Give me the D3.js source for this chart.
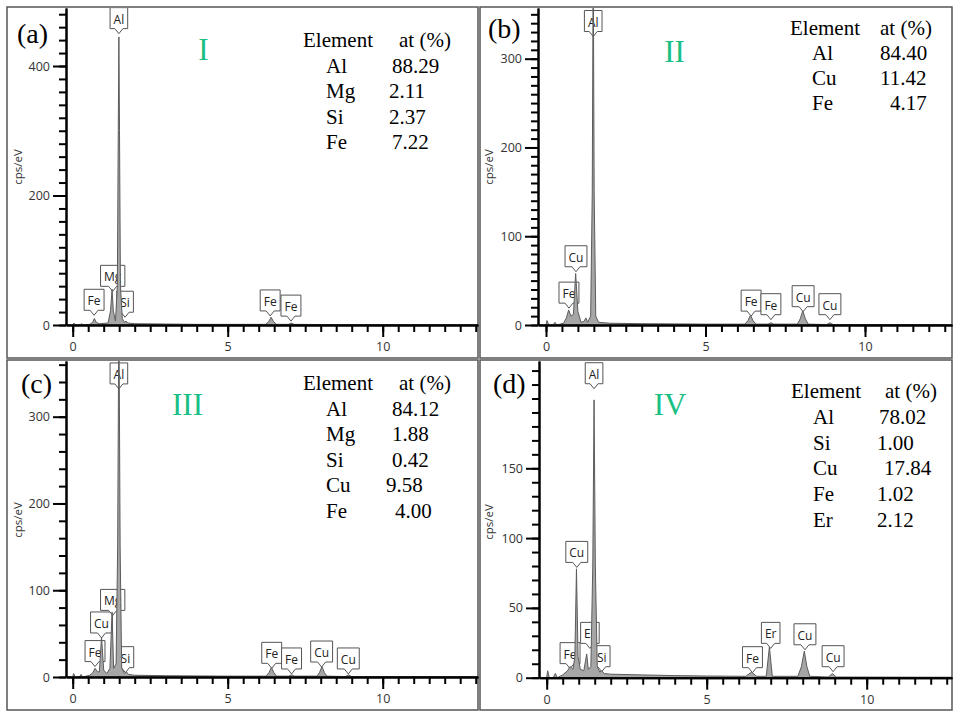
<!DOCTYPE html>
<html>
<head>
<meta charset="utf-8">
<script src="https://cdnjs.cloudflare.com/ajax/libs/d3/7.8.5/d3.min.js"></script>
<style>
  body { margin: 0; background: #fff; }
  svg { display: block; }
</style>
</head>
<body>
<svg id="fig" width="953" height="712"></svg>
<script>
// EDS spectra, [energy keV, counts cps/eV]
var specA = [[-0.25,0],[0,0],[0.04,3],[0.09,0],[0.24,0],[0.29,2],[0.34,0],[0.55,1],[0.64,4],[0.7,10],[0.76,4],[0.86,2],[1.14,3],[1.22,22],[1.27,55],[1.31,22],[1.38,6],[1.44,60],[1.47,300],[1.49,445],[1.51,300],[1.54,60],[1.6,10],[1.67,4],[1.72,6],[1.78,3],[2.0,2],[3,1.5],[4,1],[5,1],[6.22,1],[6.32,5],[6.4,12],[6.48,5],[6.58,1],[6.96,1],[7.05,3],[7.14,1],[9,0.5],[13.2,0.3]];
var specB = [[-0.3,0],[0,0],[0.03,5],[0.09,0],[0.22,0],[0.28,3],[0.34,0],[0.55,2],[0.64,8],[0.71,17],[0.78,10],[0.86,12],[0.93,58],[1.0,15],[1.1,3],[1.19,4],[1.25,8],[1.3,3],[1.4,10],[1.45,150],[1.48,420],[1.51,150],[1.56,10],[1.65,3],[2,2],[3,1.5],[5,1],[6.24,1],[6.33,5],[6.41,11],[6.49,5],[6.58,1],[6.96,1],[7.05,2.5],[7.14,1],[7.88,1],[7.97,7],[8.05,16],[8.13,7],[8.22,1],[8.8,0.5],[8.9,2.5],[9.0,0.5],[13.2,0.3]];
var specC = [[-0.25,0],[0,0],[0.03,4],[0.08,0],[0.22,0],[0.27,3],[0.32,0],[0.55,2],[0.65,5],[0.72,10],[0.8,6],[0.86,6],[0.93,46],[1.0,8],[1.1,4],[1.2,10],[1.27,75],[1.32,10],[1.4,15],[1.45,150],[1.49,430],[1.53,150],[1.58,10],[1.67,4],[1.73,6],[1.8,3],[2,2],[3,1.5],[5,1],[6.24,1],[6.33,5],[6.41,11],[6.49,5],[6.58,1],[6.96,1],[7.06,2.5],[7.15,1],[7.88,1],[7.96,5],[8.04,12],[8.12,5],[8.2,1],[8.8,0.5],[8.9,2.5],[9,0.5],[13.2,0.3]];
var specD = [[-0.3,0],[0,0],[0.03,5],[0.08,0],[0.2,0],[0.27,3],[0.33,0],[0.5,2],[0.65,5],[0.73,8],[0.82,6],[0.88,15],[0.93,78],[0.98,15],[1.05,6],[1.16,5],[1.25,17],[1.3,6],[1.38,8],[1.44,80],[1.48,199],[1.52,80],[1.58,8],[1.66,4],[1.72,5],[1.8,3],[2,2.5],[3,2],[4,1.5],[5,1.2],[6.22,1],[6.4,4],[6.56,1],[6.86,1],[6.96,22],[7.05,1],[7.85,1],[7.96,8],[8.05,19],[8.13,8],[8.22,1],[8.8,0.5],[8.93,3],[9.05,0.5],[13.2,0.3]];

// peak labels: element, energy (keV), pointer tip (cps/eV)
var labelsA = [["Al",1.49,450],["Fe",0.69,15],["Mg",1.29,52],["Si",1.69,12],["Fe",6.37,14],["Fe",7.04,6]];
var labelsB = [["Al",1.48,325],["Fe",0.72,19],["Cu",0.94,60],["Fe",6.43,10],["Fe",7.05,6],["Cu",8.06,15],["Cu",8.9,6]];
var labelsC = [["Al",1.49,332],["Fe",0.72,12],["Cu",0.93,45],["Mg",1.29,71],["Si",1.7,5],["Fe",6.42,10],["Fe",7.06,3.5],["Cu",8.03,11.5],["Cu",8.89,3.5]];
var labelsD = [["Al",1.48,207],["Cu",0.94,79],["Fe",0.73,6.5],["Er",1.35,21],["Si",1.72,4.3],["Fe",6.43,3.6],["Er",7.0,21],["Cu",8.07,20],["Cu",8.95,4.3]];

// composition tables
var elemA = ["Al","Mg","Si","Fe"],       atA = ["88.29","2.11","2.37","7.22"];
var elemB = ["Al","Cu","Fe"],            atB = ["84.40","11.42","4.17"];
var elemC = ["Al","Mg","Si","Cu","Fe"],  atC = ["84.12","1.88","0.42","9.58","4.00"];
var elemD = ["Al","Si","Cu","Fe","Er"],  atD = ["78.02","1.00","17.84","1.02","2.12"];

var yTicksA = [0,200,400], yTicksB = [0,100,200,300], yTicksC = [0,100,200,300], yTicksD = [0,50,100,150];
var xTicks = [0,5,10];

var svg = d3.select("#fig");
var green = "#19bf85";

var panels = [
  {id:"a", roman:"I",   spec:specA, labels:labelsA, elem:elemA, at:atA, yTicks:yTicksA, yMinor:20,
   box:[7,7,471,351], left:66, right:478, top:8, bottom:325, x0:72.7, x10:382.7, yRef:400, yRefPx:66,
   letter:[17,43], romanPos:[203.5,60], ylab:[18,167],
   tab:{ex:303, ax:399, hy:47, nx:326, vx:[392,389,389,392], dy:25.5}},
  {id:"b", roman:"II",  spec:specB, labels:labelsB, elem:elemB, at:atB, yTicks:yTicksB, yMinor:10,
   box:[480,7,472,351], left:538, right:952, top:8, bottom:325, x0:546, x10:865, yRef:300, yRefPx:58.7,
   letter:[488,38], romanPos:[674.5,62], ylab:[489,167],
   tab:{ex:790, ax:880, hy:35, nx:812, vx:[880,880,890], dy:25}},
  {id:"c", roman:"III", spec:specC, labels:labelsC, elem:elemC, at:atC, yTicks:yTicksC, yMinor:20,
   box:[7,360,471,350], left:66, right:478, top:361, bottom:677, x0:72.7, x10:382.7, yRef:300, yRefPx:416.7,
   letter:[21,393], romanPos:[187.5,415], ylab:[18,520],
   tab:{ex:303, ax:399, hy:390, nx:326, vx:[392,392,392,386,395], dy:25.5}},
  {id:"d", roman:"IV",  spec:specD, labels:labelsD, elem:elemD, at:atD, yTicks:yTicksD, yMinor:10,
   box:[480,360,472,350], left:539, right:952, top:361, bottom:677.7, x0:546.7, x10:866.7, yRef:150, yRefPx:468.3,
   letter:[493,393], romanPos:[670,415], ylab:[489,522],
   tab:{ex:791, ax:885, hy:398, nx:813, vx:[879,877,884,877,877], dy:25.8}}
];

panels.forEach(function(p) {
  var g = svg.append("g").attr("class", "panel-" + p.id);

  // frame
  g.append("rect")
    .attr("x", p.box[0]).attr("y", p.box[1])
    .attr("width", p.box[2]).attr("height", p.box[3])
    .attr("fill", "none").attr("stroke", "#555").attr("stroke-width", 1.5);

  // scales, calibrated on two tick positions then stretched to the axis ends
  var x = d3.scaleLinear().domain([0, 10]).range([p.x0, p.x10]);
  x.domain([x.invert(p.left), x.invert(p.right)]).range([p.left, p.right]);
  var y = d3.scaleLinear().domain([0, p.yRef]).range([p.bottom, p.yRefPx]);
  y.domain([0, y.invert(p.top)]).range([p.bottom, p.top]);

  var clipId = "clip-" + p.id;
  g.append("clipPath").attr("id", clipId)
    .append("rect")
      .attr("x", p.left).attr("y", p.top)
      .attr("width", p.right - p.left).attr("height", p.bottom - p.top);

  // peak labels (drawn under the spectrum, as in the original)
  var lab = g.append("g").attr("clip-path", "url(#" + clipId + ")");
  p.labels.forEach(function(d) {
    var tx = x(d[1]), ty = y(d[2]);
    var lg = lab.append("g");
    var t = lg.append("text")
      .attr("x", tx).attr("y", ty - 10)
      .attr("text-anchor", "middle")
      .attr("font-family", "Open Sans, sans-serif")
      .attr("font-size", 12)
      .attr("fill", "#222")
      .text(d[0]);
    var w = t.node().getComputedTextLength() + 7, h = 21, ph = 5;
    lg.insert("path", "text")
      .attr("d", "M" + (tx - w / 2) + "," + (ty - ph - h) +
                 "H" + (tx + w / 2) + "V" + (ty - ph) +
                 "H" + (tx + 4) + "L" + tx + "," + ty +
                 "L" + (tx - 4) + "," + (ty - ph) +
                 "H" + (tx - w / 2) + "Z")
      .attr("fill", "#fff").attr("stroke", "#555").attr("stroke-width", 1);
  });

  // spectrum
  var area = d3.area()
    .x(function(d) { return x(d[0]); })
    .y0(y(0))
    .y1(function(d) { return y(d[1]); });
  g.append("path")
    .datum(p.spec)
    .attr("clip-path", "url(#" + clipId + ")")
    .attr("d", area)
    .attr("fill", "#a6a6a6")
    .attr("stroke", "#5c5c5c")
    .attr("stroke-width", 1);

  // x axis
  var xMax = x.domain()[1];
  var xMinor = d3.axisBottom(x).tickValues(d3.range(0, xMax, 0.5)).tickSize(7).tickSizeOuter(0).tickFormat("");
  var xMajor = d3.axisBottom(x).tickValues(xTicks).tickSize(12).tickSizeOuter(0).tickPadding(5);
  [xMinor, xMajor].forEach(function(ax) {
    var a = g.append("g").attr("transform", "translate(0," + p.bottom + ")").call(ax);
    a.selectAll("path, line").attr("stroke", "#000").attr("stroke-width", 2);
    a.selectAll("text").attr("font-family", "Open Sans, sans-serif").attr("font-size", 12.5).attr("fill", "#333");
  });

  // y axis
  var yMax = y.domain()[1];
  var yMinor = d3.axisLeft(y).tickValues(d3.range(0, yMax, p.yMinor)).tickSize(7).tickSizeOuter(0).tickFormat("");
  var yMajor = d3.axisLeft(y).tickValues(p.yTicks).tickSize(13).tickSizeOuter(0).tickPadding(3);
  [yMinor, yMajor].forEach(function(ax) {
    var a = g.append("g").attr("transform", "translate(" + p.left + ",0)").call(ax);
    a.selectAll("path, line").attr("stroke", "#000").attr("stroke-width", 2);
    a.selectAll("text").attr("font-family", "Open Sans, sans-serif").attr("font-size", 12.5).attr("fill", "#333");
  });

  g.append("text")
    .attr("transform", "translate(" + p.ylab[0] + "," + p.ylab[1] + ") rotate(-90)")
    .attr("text-anchor", "middle")
    .attr("dy", "0.35em")
    .attr("font-family", "Open Sans, sans-serif")
    .attr("font-size", 11.5)
    .attr("fill", "#333")
    .text("cps/eV");

  // panel letter and sample numeral
  g.append("text")
    .attr("x", p.letter[0]).attr("y", p.letter[1])
    .attr("font-family", "Liberation Serif, Times New Roman, serif")
    .attr("font-size", 28)
    .text("(" + p.id + ")");
  g.append("text")
    .attr("x", p.romanPos[0]).attr("y", p.romanPos[1])
    .attr("text-anchor", "middle")
    .attr("font-family", "Liberation Serif, Times New Roman, serif")
    .attr("font-size", 31)
    .attr("fill", green)
    .text(p.roman);

  // composition table
  var tb = g.append("g")
    .attr("font-family", "Liberation Serif, Times New Roman, serif")
    .attr("font-size", 21)
    .attr("fill", "#000");
  tb.append("text").attr("x", p.tab.ex).attr("y", p.tab.hy).text("Element");
  tb.append("text").attr("x", p.tab.ax).attr("y", p.tab.hy).text("at (%)");
  p.elem.forEach(function(el, i) {
    var yy = p.tab.hy + (i + 1) * p.tab.dy;
    tb.append("text").attr("x", p.tab.nx).attr("y", yy).text(el);
    tb.append("text").attr("x", p.tab.vx[i]).attr("y", yy).text(p.at[i]);
  });
});
</script>
</body>
</html>
